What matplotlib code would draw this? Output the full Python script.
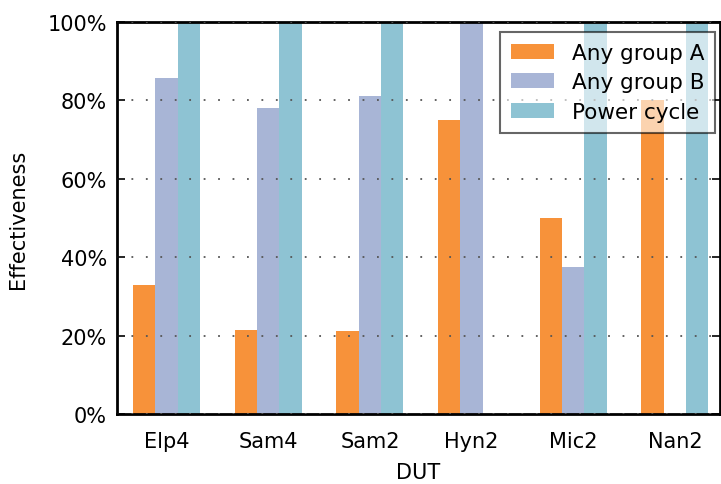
import matplotlib.pyplot as plt
import numpy as np
from matplotlib.ticker import FuncFormatter

# Data
duts = ['Elp4', 'Sam4', 'Sam2', 'Hyn2', 'Mic2', 'Nan2']
any_group_a = [0.33, 0.215, 0.2125, 0.75, 0.50, 0.80]
any_group_b = [0.857, 0.78, 0.81, 1.00, 0.375, 0.0]
power_cycle = [1.00, 1.00, 1.00, 0.0, 1.00, 1.00]

plt.rcParams['font.family'] = 'DejaVu Sans'

fig = plt.figure(figsize=(7.21, 4.85), dpi=100)
ax = fig.add_axes([0.162, 0.144, 0.836, 0.809])

x = np.arange(len(duts))
w = 0.22

ax.bar(x - w, any_group_a, w, color='#f7923a', label='Any group A', zorder=2)
ax.bar(x, any_group_b, w, color='#a8b5d6', label='Any group B', zorder=2)
ax.bar(x + w, power_cycle, w, color='#8ec3d3', label='Power cycle', zorder=2)

ax.set_xlim(-0.49, 5.44)
ax.set_ylim(0, 1)
ax.set_yticks(np.arange(0, 1.01, 0.2))
ax.yaxis.set_major_formatter(FuncFormatter(lambda v, p: '{:d}%'.format(int(round(v * 100)))))
ax.set_xticks(x)
ax.set_xticklabels(duts)

ax.tick_params(axis='y', direction='in', left=True, right=True, length=6, width=1.2,
               labelsize=15, pad=7)
ax.tick_params(axis='x', length=0, labelsize=15, pad=12)

ax.yaxis.grid(True, linestyle=(0, (1, 7)), color='#555555', linewidth=1.3, zorder=3)
ax.set_axisbelow(False)

for s in ax.spines.values():
    s.set_linewidth(2)

ax.set_xlabel('DUT', fontsize=15, labelpad=8)
ax.set_ylabel('Effectiveness', fontsize=15, labelpad=14)

leg = ax.legend(loc='upper right', bbox_to_anchor=(0.993, 0.974), fontsize=15.5,
                fancybox=False, framealpha=0.6, edgecolor='black',
                handlelength=2.0, handletextpad=0.85, borderpad=0.5, labelspacing=0.45,
                borderaxespad=0)
leg.get_frame().set_linewidth(1.5)

fig.savefig('out.png', dpi=100)
